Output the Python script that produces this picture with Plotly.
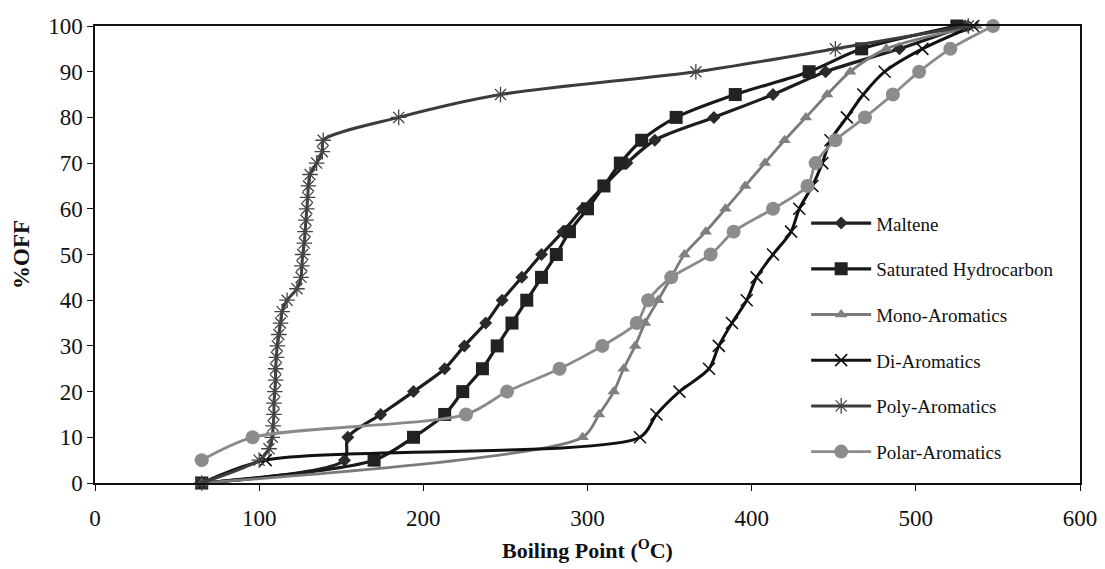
import plotly.graph_objects as go

# Distillation curves: boiling point (deg C) vs. percent off
pct_5 = [0, 5, 10, 15, 20, 25, 30, 35, 40, 45, 50, 55, 60, 65, 70, 75, 80, 85, 90, 95, 100]

maltene_bp = [65, 152, 154, 174, 194, 213, 225, 238, 248, 260, 272, 285, 297, 310, 324, 341, 377, 413, 445, 490, 530]
maltene_off = pct_5

saturated_bp = [65, 170, 194, 213, 224, 236, 245, 254, 263, 272, 281, 289, 300, 310, 320, 333, 354, 390, 435, 467, 525]
saturated_off = pct_5

mono_bp = [65, 297, 307, 316, 322, 329, 335, 343, 351, 359, 372, 384, 396, 408, 420, 433, 446, 460, 482, 537]
mono_off = [0, 10, 15, 20, 25, 30, 35, 40, 45, 50, 55, 60, 65, 70, 75, 80, 85, 90, 95, 100]

di_bp = [65, 104, 332, 342, 356, 374, 380, 388, 397, 403, 413, 424, 429, 437, 443, 448, 458, 468, 481, 504, 535]
di_off = pct_5

poly_bp = [65, 100, 106, 108, 108.5, 109, 109, 109.5, 110, 110, 110.5, 111, 112, 113, 114, 117, 123,
           125.5, 126, 126.5, 127.5, 128, 128.5, 129, 129.5, 130, 131, 135, 138.5, 139, 185, 247, 366, 451, 532]
poly_off = [0, 5, 7.5, 10, 12.5, 15, 17.5, 20, 22.5, 25, 27.5, 30, 32.5, 35, 37.5, 40, 42.5,
            45, 47.5, 50, 52.5, 55, 57.5, 60, 62.5, 65, 67.5, 70, 72.5, 75, 80, 85, 90, 95, 100]

polar_bp = [65, 96, 226, 251, 283, 309, 330, 337, 351, 375, 389, 413, 434, 439, 451, 469, 486, 502, 521, 547]
polar_off = [5, 10, 15, 20, 25, 30, 35, 40, 45, 50, 55, 60, 65, 70, 75, 80, 85, 90, 95, 100]

x_ticks = [0, 100, 200, 300, 400, 500, 600]
y_ticks = [0, 10, 20, 30, 40, 50, 60, 70, 80, 90, 100]

SERIF = "Liberation Serif, Times New Roman, serif"

series = [
    ("Maltene", maltene_bp, maltene_off, "#1e1e1e", 3.2,
     dict(symbol="diamond", size=10, color="#2a2a2a")),
    ("Saturated Hydrocarbon", saturated_bp, saturated_off, "#1a1a1a", 3.2,
     dict(symbol="square", size=13, color="#222222")),
    ("Mono-Aromatics", mono_bp, mono_off, "#7a7a7a", 2.8,
     dict(symbol="triangle-up", size=11, color="#808080")),
    ("Di-Aromatics", di_bp, di_off, "#111111", 3.0,
     dict(symbol="x-thin", size=12, color="#111111", line=dict(width=1.6, color="#111111"))),
    ("Poly-Aromatics", poly_bp, poly_off, "#3c3c3c", 3.0,
     dict(symbol="asterisk", size=13, color="#444444", line=dict(width=1.3, color="#444444"))),
    ("Polar-Aromatics", polar_bp, polar_off, "#8a8a8a", 2.8,
     dict(symbol="circle", size=14, color="#8c8c8c")),
]

fig = go.Figure()
for i, (name, xs, ys, col, lw, mk) in enumerate(series):
    fig.add_trace(go.Scatter(
        x=xs, y=ys, name=name, mode="lines+markers",
        line=dict(color=col, width=lw, shape="spline", smoothing=0.8),
        marker=mk, cliponaxis=False, legendgroup=f"g{i}",
    ))

fig.update_layout(
    width=1105, height=569,
    margin=dict(l=95, r=25, t=26, b=86, autoexpand=False),
    paper_bgcolor="white", plot_bgcolor="white",
    font=dict(family=SERIF, size=22, color="#111111"),
    showlegend=True,
    legend=dict(
        x=0.722, y=0.61, xanchor="left", yanchor="top",
        bgcolor="rgba(0,0,0,0)", borderwidth=0,
        font=dict(family=SERIF, size=19, color="#111111"),
        traceorder="grouped", tracegroupgap=18, itemwidth=60,
    ),
    xaxis=dict(
        range=[0, 600], tickvals=x_ticks, ticks="outside", ticklen=6,
        tickcolor="#111111", showline=True, linecolor="#111111", linewidth=1.5,
        mirror=True, showgrid=False, zeroline=False, automargin=False,
        tickfont=dict(family=SERIF, size=23), ticklabelstandoff=8,
        title=dict(text="<b>Boiling Point (<sup>O</sup>C)</b>",
                   font=dict(family=SERIF, size=22), standoff=12),
    ),
    yaxis=dict(
        range=[0, 100], tickvals=y_ticks, ticks="outside", ticklen=6,
        tickcolor="#111111", showline=True, linecolor="#111111", linewidth=1.5,
        mirror=True, showgrid=False, zeroline=False, automargin=False,
        tickfont=dict(family=SERIF, size=23),
        title=dict(text="<b>%OFF</b>", font=dict(family=SERIF, size=23), standoff=12),
    ),
)

fig.write_html("out.html")
